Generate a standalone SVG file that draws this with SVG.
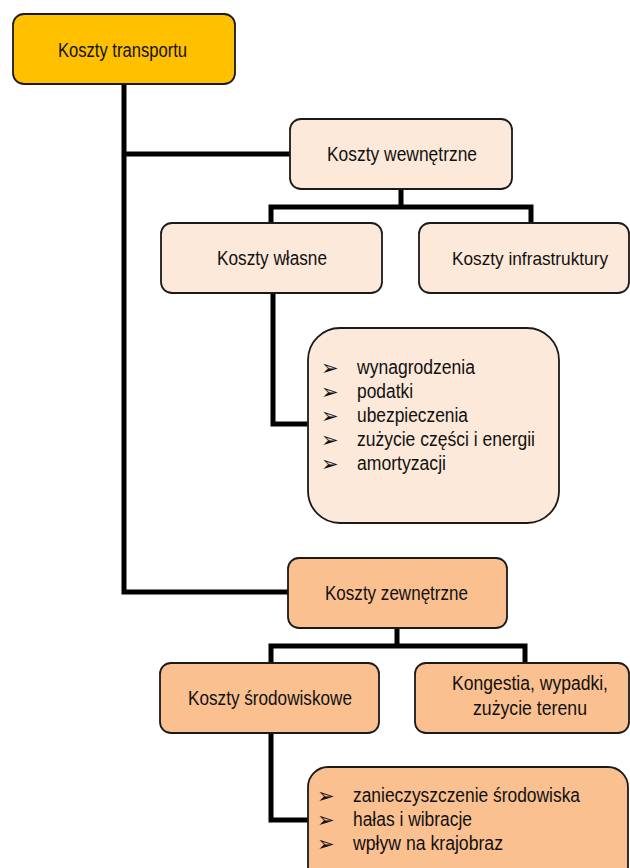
<svg xmlns="http://www.w3.org/2000/svg" width="630" height="868" viewBox="0 0 630 868">
<style>
.box{stroke:#1a1a1a;stroke-width:1.8}
.orange{fill:#FFC000}
.light{fill:#FDE9D9}
.mid{fill:#FAC090}
.t{font-family:"Liberation Sans",Arial,sans-serif;font-size:20px;fill:#111;text-anchor:middle}
.l{font-family:"Liberation Sans",Arial,sans-serif;font-size:20px;fill:#111}
.b{font-family:"DejaVu Sans",sans-serif;font-size:21px;fill:#111}
.c{fill:none;stroke:#000;stroke-width:5;stroke-linejoin:miter}
</style>
<rect width="630" height="868" fill="#fff"/>
<g id="connectors">
<path class="c" d="M124,84 V592 H290"/>
<path class="c" d="M124,154 H291"/>
<path class="c" d="M401,189 V207 M271,224 V207 H531 V224"/>
<path class="c" d="M273,293 V424 H309"/>
<path class="c" d="M397,628 V646 M271,663 V646 H525 V663"/>
<path class="c" d="M271,733 V820 H309"/>
</g>
<g id="koszty-transportu">
<rect class="box orange" x="13" y="14" width="222" height="70" rx="11"/>
<text class="t" x="122.5" y="57" textLength="129" lengthAdjust="spacingAndGlyphs">Koszty transportu</text>
</g>
<g id="koszty-wewnetrzne">
<rect class="box light" x="290" y="119" width="222" height="70" rx="11"/>
<text class="t" x="402" y="161" textLength="150" lengthAdjust="spacingAndGlyphs">Koszty wewnętrzne</text>
</g>
<g id="koszty-wlasne">
<rect class="box light" x="161" y="223" width="221" height="70" rx="11"/>
<text class="t" x="272" y="265" textLength="110" lengthAdjust="spacingAndGlyphs">Koszty własne</text>
</g>
<g id="koszty-infrastruktury">
<rect class="box light" x="419" y="223" width="210" height="70" rx="11"/>
<text class="t" x="530" y="265" style="font-size:19px" textLength="156" lengthAdjust="spacingAndGlyphs">Koszty infrastruktury</text>
</g>
<g id="lista-wlasne">
<rect class="box light" x="308" y="328" width="251" height="195" rx="32"/>
<text class="b" x="321" y="375">➢</text>
<text class="b" x="321" y="399">➢</text>
<text class="b" x="321" y="423">➢</text>
<text class="b" x="321" y="447">➢</text>
<text class="b" x="321" y="471">➢</text>
<text class="l" x="357" y="374" textLength="118" lengthAdjust="spacingAndGlyphs">wynagrodzenia</text>
<text class="l" x="357" y="398" textLength="56" lengthAdjust="spacingAndGlyphs">podatki</text>
<text class="l" x="357" y="422" textLength="111" lengthAdjust="spacingAndGlyphs">ubezpieczenia</text>
<text class="l" x="357" y="446" textLength="178" lengthAdjust="spacingAndGlyphs">zużycie części i energii</text>
<text class="l" x="357" y="470" textLength="89" lengthAdjust="spacingAndGlyphs">amortyzacji</text>
</g>
<g id="koszty-zewnetrzne">
<rect class="box mid" x="288" y="558" width="219" height="70" rx="11"/>
<text class="t" x="396.5" y="600" textLength="143" lengthAdjust="spacingAndGlyphs">Koszty zewnętrzne</text>
</g>
<g id="koszty-srodowiskowe">
<rect class="box mid" x="160" y="663" width="219" height="70" rx="11"/>
<text class="t" x="270" y="705" textLength="164" lengthAdjust="spacingAndGlyphs">Koszty środowiskowe</text>
</g>
<g id="kongestia">
<rect class="box mid" x="415" y="663" width="214" height="70" rx="11"/>
<text class="t" x="530" y="690" textLength="156" lengthAdjust="spacingAndGlyphs">Kongestia, wypadki,</text>
<text class="t" x="530" y="715" textLength="114" lengthAdjust="spacingAndGlyphs">zużycie terenu</text>
</g>
<g id="lista-srodowiskowe">
<rect class="box mid" x="308" y="767" width="320" height="120" rx="20"/>
<text class="b" x="317" y="803">➢</text>
<text class="b" x="317" y="827">➢</text>
<text class="b" x="317" y="851">➢</text>
<text class="l" x="353" y="802" textLength="227" lengthAdjust="spacingAndGlyphs">zanieczyszczenie środowiska</text>
<text class="l" x="353" y="826" textLength="119" lengthAdjust="spacingAndGlyphs">hałas i wibracje</text>
<text class="l" x="353" y="850" textLength="150" lengthAdjust="spacingAndGlyphs">wpływ na krajobraz</text>
</g>
</svg>
